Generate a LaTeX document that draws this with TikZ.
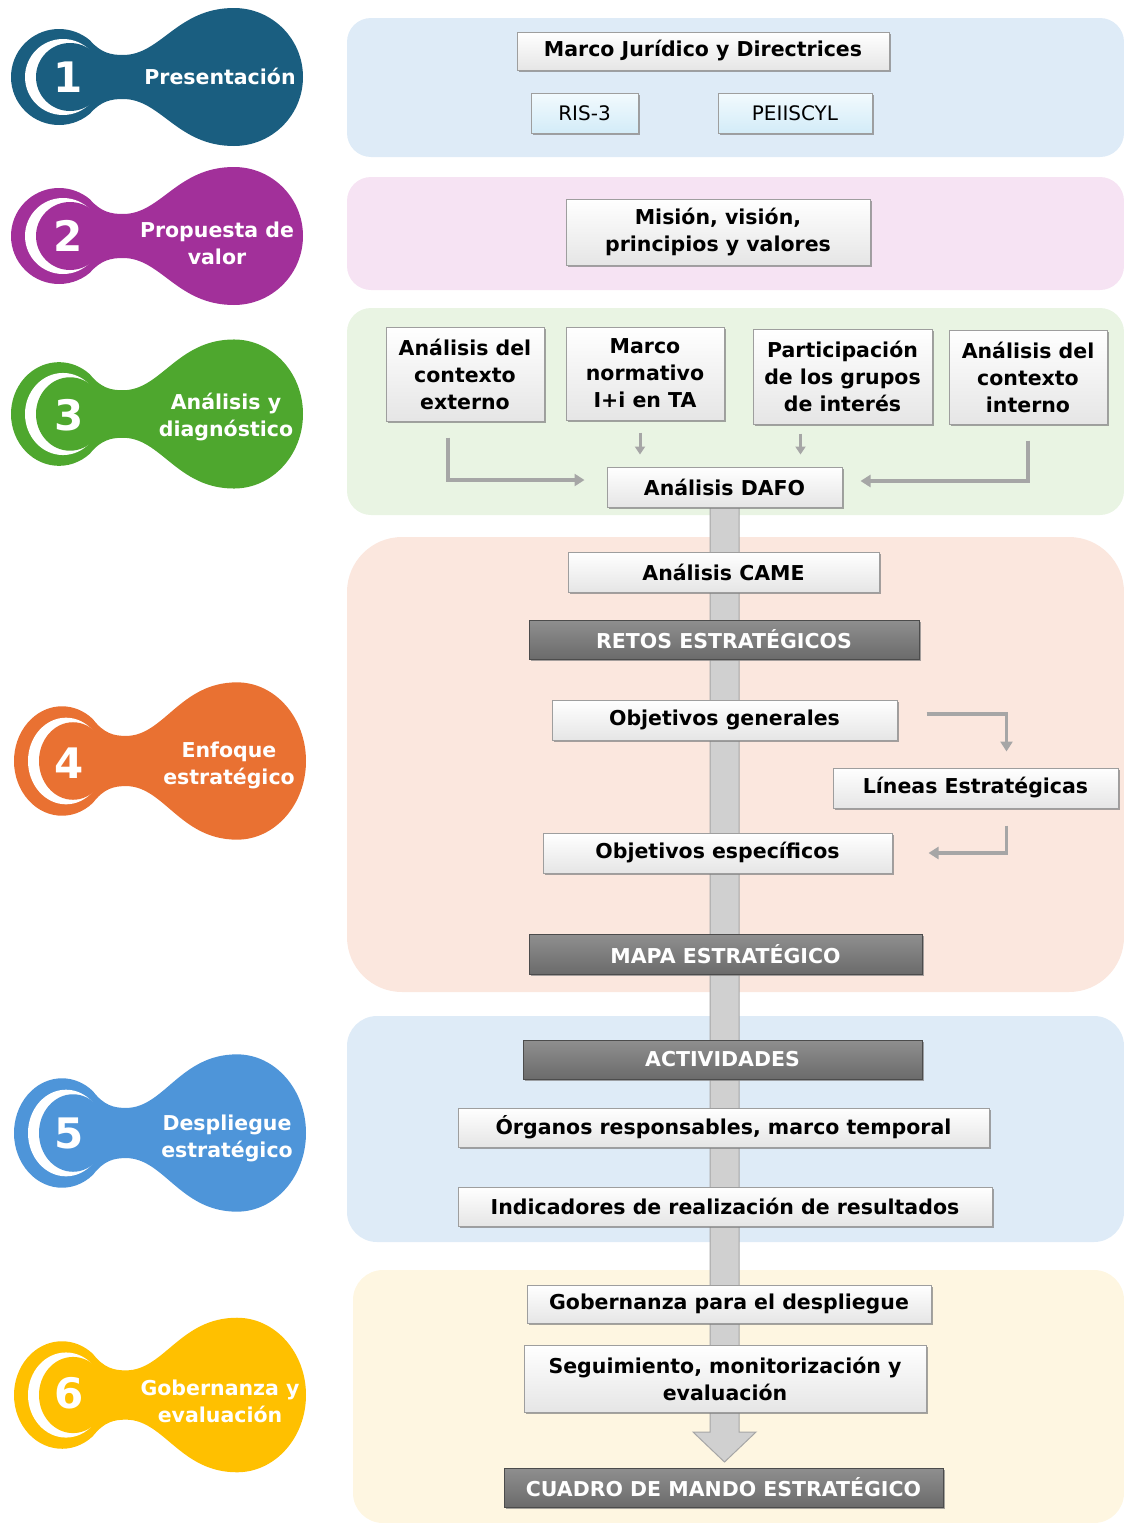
\documentclass[tikz,border=0pt]{standalone}
\usepackage{fontspec}
\setmainfont{DejaVu Sans}
\usetikzlibrary{shadows,arrows.meta}
\definecolor{bgblue}{HTML}{DEEBF7}
\definecolor{bgpink}{HTML}{F6E3F3}
\definecolor{bggreen}{HTML}{E9F4E3}
\definecolor{bgsalmon}{HTML}{FBE7DE}
\definecolor{bgyellow}{HTML}{FEF6E1}
\definecolor{cA}{HTML}{1A5E80}
\definecolor{cB}{HTML}{A2309A}
\definecolor{cC}{HTML}{4EA72E}
\definecolor{cD}{HTML}{E97132}
\definecolor{cE}{HTML}{4E95D9}
\definecolor{cF}{HTML}{FFC000}
\definecolor{barfill}{HTML}{D0D0D0}
\definecolor{linegray}{HTML}{A6A6A6}
\definecolor{ltop}{HTML}{F2FAFE}
\definecolor{lbot}{HTML}{D3ECF8}
\tikzset{
  box/.style={draw=black!38, line width=1pt, top color=white, bottom color=black!10,
    font=\bfseries\fontsize{20.5}{27}\selectfont, text=black, align=center, inner sep=0pt,
    drop shadow={shadow xshift=1.5pt, shadow yshift=-1.5pt, fill=black!50, opacity=.7}},
  lbox/.style={box, top color=ltop, bottom color=lbot,
    font=\fontsize{20}{24}\selectfont},
  dbox/.style={box, draw=black!70, top color=black!44, bottom color=black!58, text=white},
  conn/.style={draw=linegray, line width=3.5pt, -{Triangle[length=10pt,width=12pt]}},
  sconn/.style={draw=linegray, line width=3pt, -{Triangle[length=8pt,width=10pt]}},
  num/.style={text=white, font=\bfseries\fontsize{42}{42}\selectfont, inner sep=0pt},
  blabel/.style={text=white, font=\bfseries\fontsize{20.5}{27}\selectfont, align=center, inner sep=0pt},
}
\newcommand\stepbadge[3]{%
  \begin{scope}[shift={#1}, yscale=-#2]
    \fill[#3] (50:48) .. controls (42,24) and (52,22) .. (64,22)
      .. controls (102,22) and (118,69) .. (175,69)
      arc[start angle=90, end angle=-90, radius=69]
      .. controls (118,-69) and (102,-22) .. (64,-22)
      .. controls (52,-22) and (42,-24) .. (-50:48)
      arc[start angle=-50, end angle=-310, radius=48] -- cycle;
    \fill[white] (4,0) circle[radius=38];
    \fill[#3] (11,0) circle[radius=34];
  \end{scope}}
\begin{document}
\begin{tikzpicture}[x=1pt,y=-1pt]
\useasboundingbox (0,0) rectangle (1124,1523);
% section backgrounds
\fill[bgblue, rounded corners=24pt] (347,18) rectangle (1124,157);
\fill[bgpink, rounded corners=24pt] (347,177) rectangle (1124,290);
\fill[bggreen, rounded corners=24pt] (347,308) rectangle (1124,515);
\fill[bgsalmon, rounded corners=55pt] (347,537) rectangle (1124,992);
\fill[bgblue, rounded corners=30pt] (347,1016) rectangle (1124,1242);
\fill[bgyellow, rounded corners=30pt] (353,1270) rectangle (1124,1523);
% badges
\stepbadge{(59,77)}{1}{cA}
\stepbadge{(59,236)}{1}{cB}
\stepbadge{(59,414)}{1.08}{cC}
\stepbadge{(62,761)}{1.14}{cD}
\stepbadge{(62,1133)}{1.14}{cE}
\stepbadge{(62,1395)}{1.12}{cF}
\node[num] (n1) at (68,77) {1};
\node[num] (n2) at (68,236) {2};
\node[num] (n3) at (69,415) {3};
\node[num] (n4) at (69,763) {4};
\node[num] (n5) at (69,1133) {5};
\node[num] (n6) at (69,1393) {6};
\node[blabel] (b1) at (220,76) {Presentación};
\node[blabel] (b2) at (217,243) {Propuesta de\\valor};
\node[blabel] (b3) at (226,417) {Análisis y\\diagnóstico};
\node[blabel] (b4) at (229,765) {Enfoque\\estratégico};
\node[blabel] (b5) at (227,1138) {Despliegue\\estratégico};
\node[blabel] (b6) at (220,1401) {Gobernanza y\\evaluación};
% central bar
\fill[barfill, draw=linegray, line width=1pt] (710,507) -- (739,507) -- (739,1432) -- (756,1432)
  -- (724.5,1462) -- (693,1432) -- (710,1432) -- cycle;
% section 1
\node[box, minimum width=372, minimum height=38] (mj) at (703,51) {Marco Jurídico y Directrices};
\node[lbox, minimum width=107, minimum height=40] (ris) at (584.5,113) {RIS-3};
\node[lbox, minimum width=154, minimum height=40] (pei) at (795,113) {PEIISCYL};
% section 2
\node[box, minimum width=304, minimum height=66] (mis) at (718,232) {Misión, visión,\\principios y valores};
% section 3
\node[box, minimum width=158, minimum height=94] (ext) at (465,374) {Análisis del\\contexto\\externo};
\node[box, minimum width=158, minimum height=93] (mn) at (645,373.5) {Marco\\normativo\\I+i en TA};
\node[box, minimum width=179, minimum height=95] (part) at (842.5,376.5) {Participación\\de los grupos\\de interés};
\node[box, minimum width=158, minimum height=94] (int) at (1028,377) {Análisis del\\contexto\\interno};
\node[box, minimum width=235, minimum height=40] (dafo) at (724.5,487) {Análisis DAFO};
\draw[conn, shorten <=16pt, shorten >=22pt] ([xshift=-17pt]ext.south) |- ([yshift=7pt]dafo.west);
\draw[conn, shorten <=16pt, shorten >=18pt] (int.south) |- ([yshift=6pt]dafo.east);
\draw[sconn, shorten <=12pt, shorten >=12pt] ([xshift=-5pt]mn.south) -- ([xshift=-5pt]mn.south |- dafo.north);
\draw[sconn, shorten <=9pt, shorten >=12pt] ([xshift=-42pt]part.south) -- ([xshift=-42pt]part.south |- dafo.north);
% section 4
\node[box, minimum width=311, minimum height=40] (came) at (723.5,572) {Análisis CAME};
\node[dbox, minimum width=390, minimum height=39] (retos) at (724,639.5) {RETOS ESTRATÉGICOS};
\node[box, minimum width=345, minimum height=40] (og) at (724.5,720) {Objetivos generales};
\node[box, minimum width=285, minimum height=40] (le) at (975.5,788) {Líneas Estratégicas};
\node[box, minimum width=349, minimum height=40] (oe) at (717.5,853) {Objetivos específicos};
\node[dbox, minimum width=393, minimum height=40] (mapa) at (725.5,954) {MAPA ESTRATÉGICO};
\draw[conn, shorten <=29pt, shorten >=16pt] ([yshift=6pt]og.east) -| ([xshift=31pt]le.north);
\draw[conn, shorten <=17pt, shorten >=36pt] ([xshift=31pt]le.south) |- (oe.east);
% section 5
\node[dbox, minimum width=399, minimum height=39] (act) at (722.5,1059.5) {ACTIVIDADES};
\node[box, minimum width=531, minimum height=39] (org) at (723.5,1127.5) {Órganos responsables, marco temporal};
\node[box, minimum width=534, minimum height=39] (ind) at (725,1206.5) {Indicadores de realización de resultados};
% section 6
\node[box, minimum width=404, minimum height=38] (gob) at (729,1304) {Gobernanza para el despliegue};
\node[box, minimum width=402, minimum height=67] (seg) at (725,1378.5) {Seguimiento, monitorización y\\evaluación};
\node[dbox, minimum width=439, minimum height=39] (cua) at (723.5,1487.5) {CUADRO DE MANDO ESTRATÉGICO};
\end{tikzpicture}
\end{document}
